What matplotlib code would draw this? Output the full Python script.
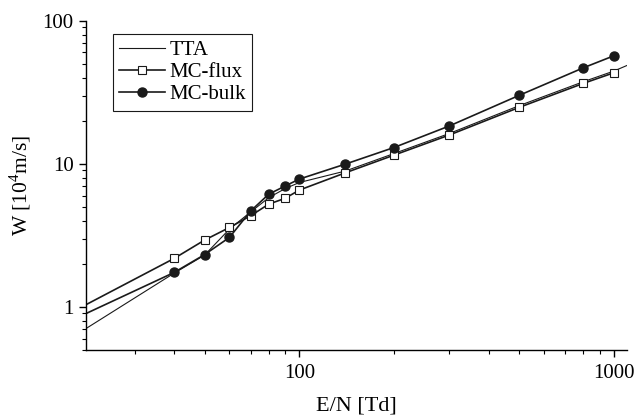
import matplotlib
matplotlib.use("Agg")
import matplotlib.pyplot as plt
from matplotlib.ticker import LogLocator, NullFormatter, FixedLocator, FixedFormatter

plt.rcParams['font.family'] = ['Liberation Serif', 'DejaVu Serif']
plt.rcParams['mathtext.fontset'] = 'custom'
plt.rcParams['mathtext.rm'] = 'Liberation Serif'

# Data
en_mc = [20, 40, 50, 60, 70, 80, 90, 100, 140, 200, 300, 500, 800, 1000]
w_flux = [0.98, 2.18, 2.93, 3.59, 4.33, 5.23, 5.73, 6.55, 8.65, 11.5, 15.9, 24.8, 36.5, 43.3]
w_bulk = [0.855, 1.74, 2.32, 3.06, 4.67, 6.14, 6.98, 7.82, 9.95, 13.0, 18.4, 30.1, 46.9, 56.9]

en_tta = [20, 40, 50, 60, 70, 80, 90, 100, 140, 200, 300, 500, 800, 1000, 1120]
w_tta = [0.66, 1.72, 2.30, 3.50, 4.60, 5.80, 6.70, 7.40, 8.90, 11.8, 16.3, 25.5, 37.5, 44.5, 49.5]

fig = plt.figure(figsize=(6.35, 4.18), dpi=100)
ax = fig.add_axes([86/635, 1-350/418, (627-86)/635, (350-20.7)/418])

ax.plot(en_tta, w_tta, '-', color='#1a1a1a', lw=0.8, label='TTA')
ax.plot(en_mc, w_flux, '-', color='#1a1a1a', lw=1.2, marker='s', ms=5.5,
        mfc='white', mec='#1a1a1a', mew=0.8, label='MC-flux')
ax.plot(en_mc, w_bulk, '-', color='#1a1a1a', lw=1.2, marker='o', ms=6.5,
        mfc='#1a1a1a', mec='#1a1a1a', label='MC-bulk')

ax.set_xscale('log')
ax.set_yscale('log')
ax.set_xlim(21, 1100)
ax.set_ylim(0.5, 100)

for s in ['top', 'right']:
    ax.spines[s].set_visible(False)
for s in ['left', 'bottom']:
    ax.spines[s].set_linewidth(1.0)

ax.xaxis.set_major_locator(FixedLocator([100, 1000]))
ax.xaxis.set_major_formatter(FixedFormatter(['100', '1000']))
ax.xaxis.set_minor_locator(LogLocator(base=10, subs=range(2, 10)))
ax.xaxis.set_minor_formatter(NullFormatter())
ax.yaxis.set_major_locator(FixedLocator([1, 10, 100]))
ax.yaxis.set_major_formatter(FixedFormatter(['1', '10', '100']))
ax.yaxis.set_minor_locator(LogLocator(base=10, subs=range(2, 10)))
ax.yaxis.set_minor_formatter(NullFormatter())

ax.tick_params(which='major', direction='out', length=5, width=1.0, labelsize=15, pad=4)
ax.tick_params(which='minor', direction='out', length=3, width=0.8)
ax.tick_params(axis='x', which='major', pad=5)

ax.set_xlabel('E/N [Td]', fontsize=16, labelpad=10)
ax.set_ylabel('W [10$^4$m/s]', fontsize=15.5, labelpad=7)

leg = ax.legend(loc='upper left', bbox_to_anchor=(113/635, 1-34.3/418),
                bbox_transform=fig.transFigure, borderaxespad=0,
                fancybox=False, edgecolor='#1a1a1a', framealpha=1,
                fontsize=15, handlelength=2.2, handletextpad=0.2,
                labelspacing=0.12, borderpad=0.3)
leg.get_frame().set_linewidth(0.8)

fig.savefig('out.png', dpi=100)
